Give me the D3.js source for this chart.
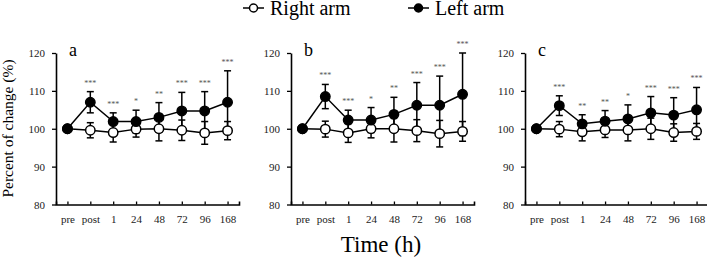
<!DOCTYPE html>
<html>
<head>
<meta charset="utf-8">
<script src="https://cdn.jsdelivr.net/npm/d3@7"></script>
<style>
  body { margin: 0; background: #fff; }
  svg { display: block; }
  svg text { font-family: "Liberation Serif", "Times New Roman", serif; }
</style>
</head>
<body>
<script>
// time points on the x axis
const timePoints = ["pre", "post", "1", "24", "48", "72", "96", "168"];
const panelNames = ["a", "b", "c"];
const yTicks = [80, 90, 100, 110, 120];

// panel a
const rightMeanA = [100, 99.6, 99.0, 99.9, 100.0, 99.6, 98.9, 99.5];
const rightSdA   = [0, 2.0, 2.5, 2.1, 3.2, 2.7, 3.0, 2.4];
const leftMeanA  = [100, 107.0, 101.9, 101.9, 103.0, 104.7, 104.7, 107.0];
const leftSdA    = [0, 2.8, 2.3, 3.0, 3.9, 4.9, 5.1, 8.3];
const starsA     = ["", "***", "***", "*", "**", "***", "***", "***"];

// panel b
const rightMeanB = [100, 99.9, 98.9, 100.0, 100.0, 99.5, 98.7, 99.3];
const rightSdB   = [0, 2.1, 2.5, 2.4, 3.5, 2.9, 3.5, 2.6];
const leftMeanB  = [100, 108.5, 102.3, 102.3, 103.8, 106.2, 106.2, 109.1];
const leftSdB    = [0, 3.2, 2.6, 3.3, 4.5, 6.0, 7.7, 10.9];
const starsB     = ["", "***", "***", "*", "**", "***", "***", "***"];

// panel c
const rightMeanC = [100, 99.9, 99.2, 99.7, 99.7, 100.0, 99.0, 99.3];
const rightSdC   = [0, 2.0, 2.4, 2.0, 2.9, 2.8, 2.3, 2.1];
const leftMeanC  = [100, 106.1, 101.3, 102.0, 102.6, 104.2, 103.6, 105.0];
const leftSdC    = [0, 2.6, 2.4, 2.8, 3.7, 4.3, 4.6, 5.9];
const starsC     = ["", "***", "**", "**", "*", "***", "***", "***"];

const panels = [
  {name: panelNames[0], right: rightMeanA, rightSd: rightSdA, left: leftMeanA, leftSd: leftSdA, stars: starsA, x0: 56},
  {name: panelNames[1], right: rightMeanB, rightSd: rightSdB, left: leftMeanB, leftSd: leftSdB, stars: starsB, x0: 291},
  {name: panelNames[2], right: rightMeanC, rightSd: rightSdC, left: leftMeanC, leftSd: leftSdC, stars: starsC, x0: 525}
];

const W = 707, H = 263;
const plotW = 183;
const yTop = 53, yBottom = 204.5;

const svg = d3.select("body").append("svg")
  .attr("width", W)
  .attr("height", H);

const x = d3.scalePoint().domain(timePoints).range([0, plotW]).padding(0.5);
const y = d3.scaleLinear().domain([80, 120]).range([yBottom, yTop]);

panels.forEach(p => {
  const g = svg.append("g").attr("transform", `translate(${p.x0},0)`);

  // axes
  const yAxis = g.append("g")
    .call(d3.axisLeft(y).tickValues(yTicks).tickSizeInner(4).tickSizeOuter(0).tickPadding(7));
  const xAxis = g.append("g")
    .attr("transform", `translate(0,${yBottom})`)
    .call(d3.axisBottom(x).tickSizeInner(-3).tickSizeOuter(-3).tickPadding(11));
  [yAxis, xAxis].forEach(ax => {
    ax.attr("font-family", null).attr("font-size", null);
    ax.select(".domain").attr("stroke-width", 1.6);
    ax.selectAll(".tick line").attr("stroke-width", 1.3);
    ax.selectAll("text")
      .style("font-family", "'Liberation Serif', 'Times New Roman', serif")
      .style("font-size", "11px").attr("fill", "#222");
  });

  // panel letter
  g.append("text")
    .attr("x", 13).attr("y", 56)
    .attr("font-size", 18)
    .text(p.name);

  const series = [
    {mean: p.right, sd: p.rightSd, fill: "#fff"},
    {mean: p.left, sd: p.leftSd, fill: "#000"}
  ];

  // error bars
  series.forEach(s => {
    const rows = timePoints.map((t, i) => ({t, m: s.mean[i], sd: s.sd[i]})).filter(d => d.sd > 0);
    const eb = g.append("g").attr("stroke", "#000").attr("stroke-width", 1.5);
    eb.selectAll(".stem").data(rows).enter().append("line")
      .attr("x1", d => x(d.t)).attr("x2", d => x(d.t))
      .attr("y1", d => y(d.m - d.sd)).attr("y2", d => y(d.m + d.sd));
    eb.selectAll(".capTop").data(rows).enter().append("line")
      .attr("x1", d => x(d.t) - 3.5).attr("x2", d => x(d.t) + 3.5)
      .attr("y1", d => y(d.m + d.sd)).attr("y2", d => y(d.m + d.sd));
    eb.selectAll(".capBot").data(rows).enter().append("line")
      .attr("x1", d => x(d.t) - 3.5).attr("x2", d => x(d.t) + 3.5)
      .attr("y1", d => y(d.m - d.sd)).attr("y2", d => y(d.m - d.sd));
  });

  // lines + markers
  const line = d3.line().x((d, i) => x(timePoints[i])).y(d => y(d));
  series.forEach(s => {
    g.append("path").datum(s.mean)
      .attr("d", line)
      .attr("fill", "none").attr("stroke", "#000").attr("stroke-width", 1.5);
  });
  series.forEach(s => {
    g.selectAll(null).data(s.mean).enter().append("circle")
      .attr("cx", (d, i) => x(timePoints[i]))
      .attr("cy", d => y(d))
      .attr("r", 4.7)
      .attr("fill", s.fill).attr("stroke", "#000").attr("stroke-width", 1.5);
  });

  // significance stars
  g.selectAll(".star").data(timePoints).enter().append("text")
    .attr("x", t => x(t))
    .attr("y", (t, i) => y(p.left[i] + p.leftSd[i]) - 6)
    .attr("text-anchor", "middle")
    .attr("font-size", 8)
    .attr("fill", "#555")
    .text((t, i) => p.stars[i]);
});

// y title
svg.append("text")
  .attr("transform", "translate(12.5,128.5) rotate(-90)")
  .attr("text-anchor", "middle")
  .attr("font-size", 15.5)
  .text("Percent of change (%)");

// x title
svg.append("text")
  .attr("x", 381).attr("y", 252)
  .attr("text-anchor", "middle")
  .attr("font-size", 23)
  .text("Time (h)");

// legend
const legendItems = [
  {label: "Right arm", fill: "#fff", x: 243},
  {label: "Left arm", fill: "#000", x: 408}
];
legendItems.forEach(l => {
  const lg = svg.append("g").attr("transform", `translate(${l.x},8)`);
  lg.append("line").attr("x1", 0).attr("x2", 21).attr("stroke", "#000").attr("stroke-width", 1.5);
  lg.append("circle").attr("cx", 10.5).attr("r", 4).attr("fill", l.fill).attr("stroke", "#000").attr("stroke-width", 1.5);
  lg.append("text").attr("x", 27).attr("y", 6.5).attr("font-size", 20).text(l.label);
});
</script>
</body>
</html>
